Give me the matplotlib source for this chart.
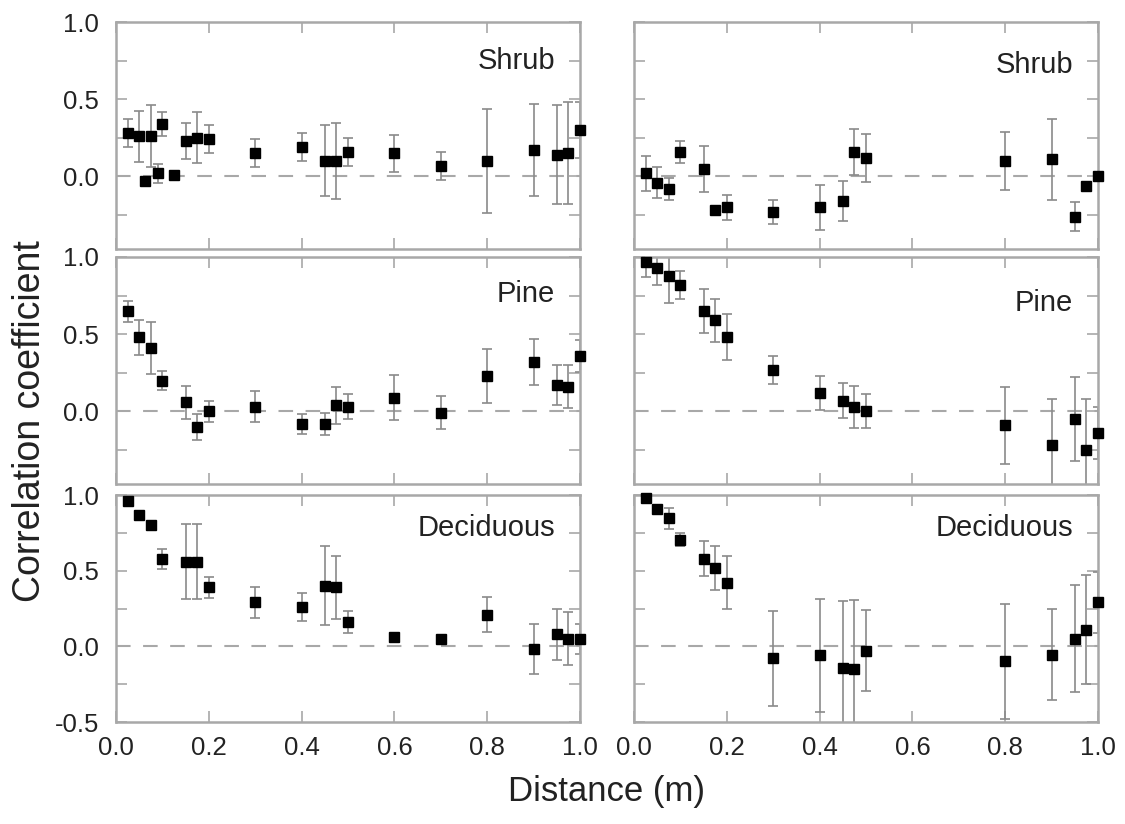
import matplotlib
matplotlib.use("Agg")
import matplotlib.pyplot as plt
from matplotlib.ticker import MultipleLocator, FormatStrFormatter

plt.rcParams['font.family'] = ['Liberation Sans', 'DejaVu Sans']

# distances (m) for each column
x_left = [0.025, 0.05, 0.075, 0.1, 0.15, 0.175, 0.2, 0.3, 0.4, 0.45, 0.475, 0.5, 0.6, 0.7, 0.8, 0.9, 0.95, 0.975, 1.0]
x_left_shrub = [0.025, 0.05, 0.0625, 0.075, 0.09, 0.1, 0.125, 0.15, 0.175, 0.2, 0.3, 0.4, 0.45, 0.475, 0.5, 0.6, 0.7, 0.8, 0.9, 0.95, 0.975, 1.0]
x_right = [0.025, 0.05, 0.075, 0.1, 0.15, 0.175, 0.2, 0.3, 0.4, 0.45, 0.475, 0.5, 0.8, 0.9, 0.95, 0.975, 1.0]

# left column
shrub_l = [0.28, 0.26, -0.03, 0.26, 0.02, 0.34, 0.01, 0.23, 0.25, 0.24, 0.15, 0.19, 0.10, 0.10, 0.16, 0.15, 0.07, 0.10, 0.17, 0.14, 0.15, 0.30]
shrub_l_err = [0.09, 0.165, 0, 0.2, 0.06, 0.075, 0, 0.115, 0.165, 0.09, 0.09, 0.09, 0.23, 0.245, 0.09, 0.12, 0.09, 0.335, 0.3, 0.32, 0.33, 0.18]
pine_l = [0.65, 0.48, 0.41, 0.20, 0.06, -0.10, 0.00, 0.03, -0.08, -0.08, 0.04, 0.03, 0.09, -0.01, 0.23, 0.32, 0.17, 0.16, 0.36]
pine_l_err = [0.068, 0.115, 0.17, 0.06, 0.107, 0.085, 0.066, 0.1, 0.065, 0.073, 0.12, 0.082, 0.147, 0.107, 0.177, 0.147, 0.128, 0.14, 0.104]
decid_l = [0.96, 0.87, 0.80, 0.58, 0.56, 0.56, 0.39, 0.29, 0.26, 0.40, 0.39, 0.16, 0.06, 0.05, 0.21, -0.02, 0.08, 0.05, 0.05]
decid_l_err = [0, 0, 0, 0.066, 0.25, 0.25, 0.07, 0.1, 0.09, 0.26, 0.21, 0.075, 0, 0, 0.115, 0.165, 0.168, 0.175, 0.1]

# right column
shrub_r = [0.02, -0.04, -0.08, 0.16, 0.05, -0.22, -0.20, -0.23, -0.20, -0.16, 0.16, 0.12, 0.10, 0.11, -0.26, -0.06, 0.00]
shrub_r_err = [0.115, 0.1, 0.07, 0.07, 0.15, 0.02, 0.08, 0.08, 0.145, 0.13, 0.15, 0.155, 0.19, 0.265, 0.095, 0.02, 0.02]
pine_r = [0.97, 0.93, 0.88, 0.82, 0.65, 0.59, 0.48, 0.27, 0.12, 0.07, 0.03, 0.00, -0.09, -0.22, -0.05, -0.25, -0.14]
pine_r_err = [0.1, 0.11, 0.175, 0.09, 0.14, 0.14, 0.15, 0.09, 0.11, 0.115, 0.135, 0.11, 0.25, 0.3, 0.27, 0.33, 0.17]
decid_r = [0.98, 0.91, 0.845, 0.705, 0.58, 0.52, 0.42, -0.08, -0.06, -0.14, -0.15, -0.03, -0.10, -0.055, 0.05, 0.11, 0.29]
decid_r_err = [0, 0, 0.068, 0.045, 0.117, 0.145, 0.175, 0.315, 0.375, 0.44, 0.455, 0.268, 0.38, 0.3, 0.355, 0.36, 0.2]

names = ["Shrub", "Pine", "Deciduous"]

GREY = "#a8a8a8"

# one panel
def draw_panel(ax, x, y, err, name, ymin, text_y, show_x, show_y):
	ax.axhline(0, color=GREY, lw=1.5, dashes=(7, 6), zorder=1)
	ax.errorbar(x, y, yerr=err, fmt='none', ecolor="#8a8a8a", elinewidth=1.2, capsize=3.5, capthick=1.2, zorder=2)
	ax.plot(x, y, 's', color='black', ms=7.5, clip_on=False, zorder=3)
	ax.set_xlim(0, 1.0)
	ax.set_ylim(ymin, 1.0)
	ax.xaxis.set_major_locator(MultipleLocator(0.2))
	ax.yaxis.set_major_locator(MultipleLocator(0.5))
	ax.yaxis.set_minor_locator(MultipleLocator(0.25))
	ax.xaxis.set_major_formatter(FormatStrFormatter('%.1f'))
	ax.yaxis.set_major_formatter(FormatStrFormatter('%.1f'))
	for s in ax.spines.values():
		s.set_color(GREY)
		s.set_linewidth(1.8)
	ax.tick_params(which='both', direction='in', top=True, right=True, length=8, width=1.2, color=GREY,
				   labelsize=18.5, labelcolor='#222222')
	ax.tick_params(axis='y', pad=12)
	ax.tick_params(axis='x', pad=10)
	if not show_x:
		ax.tick_params(axis='x', labelbottom=False)
	if not show_y:
		ax.tick_params(axis='y', labelleft=False)
	ax.text(0.946, text_y, name, transform=ax.get_yaxis_transform(), ha='right', va='center',
			fontsize=21, color='#222222')

def main():
	fig = plt.figure(figsize=(11.25, 8.24), dpi=100)
	lefts = [116 / 1125, 634 / 1125]
	w = 464 / 1125
	h = 227 / 824
	bottoms = [1 - 249 / 824, 1 - 484 / 824, 1 - 722 / 824]

	left_data = [(x_left_shrub, shrub_l, shrub_l_err), (x_left, pine_l, pine_l_err), (x_left, decid_l, decid_l_err)]
	right_data = [(x_right, shrub_r, shrub_r_err), (x_right, pine_r, pine_r_err), (x_right, decid_r, decid_r_err)]
	ymins = [-0.47, -0.47, -0.5]
	text_l = [0.75, 0.76, 0.78]
	text_r = [0.72, 0.70, 0.78]

	for i in range(3):
		ax = fig.add_axes([lefts[0], bottoms[i], w, h])
		x, y, e = left_data[i]
		draw_panel(ax, x, y, e, names[i], ymins[i], text_l[i], i == 2, True)
		ax = fig.add_axes([lefts[1], bottoms[i], w, h])
		x, y, e = right_data[i]
		draw_panel(ax, x, y, e, names[i], ymins[i], text_r[i], i == 2, False)

	fig.text(0.027, 1 - 421 / 824, "Correlation coefficient", rotation=90,
			 ha='center', va='center', fontsize=27, color='#222222')
	fig.text((lefts[0] + lefts[1] + w) / 2, 1 - 792 / 824, "Distance (m)", ha='center', va='center',
			 fontsize=25, color='#222222')

	fig.savefig("out.png", dpi=100)

if __name__ == "__main__":
	main()
